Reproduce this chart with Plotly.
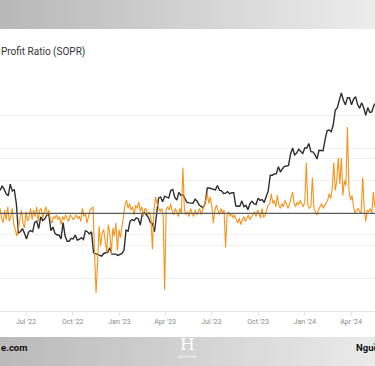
import plotly.graph_objects as go
import pandas as pd

# ---------------- data ----------------
# BTC price (thousand USD), sampled every 4 days from 2022-05-11
price_start = "2022-05-11"
price_k = [
    30.0, 31.3, 30.3, 29.1, 28.6, 31.8,
    29.9, 30.2, 26.6, 20.4, 20.6, 21.2, 20.3,
    19.3, 20.5, 20.8, 20.6, 22.4, 22.7, 21.2, 23.6,
    22.8, 23.2, 24.0, 24.1, 20.8, 21.5, 20.3, 20.0,
    20.0, 19.3, 22.4, 19.8, 18.9, 18.9, 19.4,
    19.3, 20.0, 19.1, 19.2, 19.5, 19.2, 20.8, 20.6,
    20.2, 20.6, 17.0, 16.9, 16.7, 16.6, 16.5,
    16.9, 17.0, 17.1, 17.8, 16.8, 16.8, 16.8, 16.6,
    16.7, 16.9, 17.4, 20.9, 20.7, 22.7, 23.0, 22.8,
    23.4, 23.2, 21.9, 24.3, 24.6, 23.9, 23.5,
    22.4, 22.2, 20.6, 24.4, 28.0, 28.3, 27.1, 28.5,
    28.2, 28.0, 30.0, 30.3, 28.2, 27.5, 29.5,
    28.7, 28.9, 27.7, 26.9, 26.8, 26.8, 26.7, 27.7,
    27.2, 26.3, 25.9, 25.6, 26.8, 30.7, 30.7,
    30.6, 30.5, 30.2, 31.4, 30.1, 29.9, 29.2, 29.3,
    29.7, 29.1, 29.4, 29.4, 26.1, 26.0, 26.0, 27.3,
    25.9, 26.2, 25.2, 26.6, 27.2, 26.6, 26.4,
    28.0, 27.4, 27.6, 26.9, 28.4, 29.9, 34.5, 34.5,
    34.9, 35.0, 37.3, 35.5, 36.6, 37.4, 37.5, 37.7,
    41.9, 44.2, 41.5, 42.2, 43.7, 43.0, 42.1,
    44.2, 44.2, 46.1, 42.8, 42.7, 41.6, 40.0, 43.3,
    43.2, 43.1, 47.8, 51.8, 52.1, 51.3, 54.5,
    62.4, 63.8, 68.3, 73.1, 68.4, 65.5, 70.0, 69.9,
    65.6, 69.0, 70.6, 65.7, 63.5, 66.8, 63.8, 59.5,
    63.9, 61.2, 61.5, 65.2, 66.9,
]

# SOPR, sampled every 3 days from 2022-05-11
sopr_start = "2022-05-11"
sopr_values = [
    1.003, 0.997, 0.994, 1.002, 0.996, 1.004, 0.995, 0.998, 1.003, 0.993,
    0.990, 0.986, 0.991, 0.996, 1.002, 0.994, 0.991, 1.001, 0.995, 0.998,
    1.003, 0.996, 1.002, 0.998, 1.004, 0.995, 1.002, 1.003, 0.997, 1.001,
    1.004, 0.999, 1.002, 0.996, 0.994, 0.998, 0.997, 0.999, 0.996, 0.998,
    0.993, 0.998, 0.996, 0.999, 0.997, 0.995, 0.999, 0.998, 0.996, 0.998,
    0.999, 0.997, 0.998, 0.995, 1.003, 0.998, 1.000, 0.994, 0.999, 1.002,
    1.003, 1.004, 0.975, 0.951, 0.970, 0.992, 0.980, 0.988, 0.990, 0.982,
    0.976, 0.993, 0.988, 0.975, 0.991, 0.986, 0.994, 0.977, 0.990, 0.985,
    0.992, 0.996, 1.005, 1.008, 1.003, 1.006, 1.002, 1.004, 0.999, 1.005,
    1.003, 1.007, 1.001, 1.004, 0.998, 1.003, 1.002, 0.999, 1.001, 0.997,
    0.978, 1.002, 1.010, 1.006, 1.004, 1.001, 1.003, 0.999, 0.953, 1.002,
    1.004, 1.002, 1.006, 1.001, 0.999, 1.003, 1.001, 0.998, 1.003, 1.000,
    1.028, 1.002, 0.999, 1.001, 0.998, 1.003, 1.000, 0.998, 1.002, 0.999,
    1.001, 1.003, 0.999, 1.002, 1.004, 1.008, 1.012, 1.006, 1.010, 1.004,
    0.994, 1.002, 1.005, 1.001, 0.999, 1.003, 1.000, 1.002, 0.979, 0.999,
    1.001, 0.998, 1.000, 0.997, 0.999, 0.996, 0.994, 0.997, 0.993, 0.996,
    0.998, 0.995, 0.997, 0.999, 0.996, 0.998, 0.999, 1.001, 0.998, 1.002,
    1.000, 0.997, 1.003, 0.9975, 0.999, 1.002, 1.005, 1.006, 1.012, 1.006,
    1.008, 1.004, 1.011, 1.005, 1.003, 1.006, 1.004, 1.008, 1.005, 1.003,
    1.006, 1.009, 1.013, 1.006, 1.004, 1.007, 1.005, 1.008, 1.006, 1.004,
    1.007, 1.031, 1.005, 1.003, 1.004, 1.022, 1.003, 1.001, 0.999, 1.002,
    1.004, 1.006, 1.003, 1.005, 1.007, 1.008, 1.012, 1.009, 1.015, 1.031,
    1.014, 1.020, 1.034, 1.018, 1.034, 1.011, 1.020, 1.017, 1.053, 1.014,
    1.008, 1.011, 1.004, 1.000, 1.002, 1.003, 1.001, 1.000, 1.022, 1.003,
    0.995, 1.002, 1.001, 1.003, 1.000, 1.013, 1.004, 1.002,
]

tick_dates = ["2022-07-01", "2022-10-01", "2023-01-01", "2023-04-01",
              "2023-07-01", "2023-10-01", "2024-01-01", "2024-04-01"]
tick_labels = ["Jul '22", "Oct '22", "Jan '23", "Apr '23",
               "Jul '23", "Oct '23", "Jan '24", "Apr '24"]

price_ticks = [10000, 20000, 40000, 80000]
sopr_threshold = 1.0

# ---------------- figure ----------------
W, H = 375, 366
TOP, BOT = 83, 311  # plot area pixel rows
PH = BOT - TOP


def py(p):
    """pixel row -> paper y"""
    return (BOT - p) / PH


price_dates = pd.date_range(price_start, periods=len(price_k), freq="4D")
sopr_dates = pd.date_range(sopr_start, periods=len(sopr_values), freq="3D")

fig = go.Figure()
fig.add_trace(go.Scatter(
    x=price_dates, y=[v * 1000 for v in price_k], mode="lines",
    line=dict(color="#2e2e2e", width=1.4), yaxis="y", hoverinfo="skip",
    showlegend=False))
fig.add_trace(go.Scatter(
    x=sopr_dates, y=sopr_values, mode="lines",
    line=dict(color="#f7931a", width=1.1), yaxis="y2", hoverinfo="skip",
    showlegend=False))

shapes = []
# SOPR = 1 reference line
shapes.append(dict(type="line", xref="paper", x0=0, x1=1, yref="y2",
                   y0=sopr_threshold, y1=sopr_threshold,
                   line=dict(color="#5a5a5a", width=1.2), layer="above"))


def lerp(c1, c2, t):
    return "rgb(%d,%d,%d)" % tuple(round(a + (b - a) * t) for a, b in zip(c1, c2))


N = 60
for band, (p0, p1), c1, c2 in [("top", (0, 29), (184, 184, 184), (236, 236, 236)),
                                ("bot", (337, 366), (186, 186, 186), (234, 234, 234))]:
    for k in range(N):
        t = k / (N - 1)
        shapes.append(dict(type="rect", xref="paper", yref="paper",
                           x0=k / N, x1=(k + 1) / N + 0.002,
                           y0=py(p1), y1=py(p0), line=dict(width=0),
                           fillcolor=lerp(c1, c2, t), layer="below"))

annotations = [
    dict(text="Profit Ratio (SOPR)", xref="paper", yref="paper",
         x=-0.003, y=py(52), xanchor="left", yanchor="middle", showarrow=False,
         font=dict(family="Roboto, sans-serif", size=10, color="#333333")),
    dict(text="<b>e.com</b>", xref="paper", yref="paper",
         x=-0.002, y=py(347), xanchor="left", yanchor="middle", showarrow=False,
         font=dict(family="Roboto, sans-serif", size=9.5, color="#111111")),
    dict(text="<b>Nguồ</b>", xref="paper", yref="paper",
         x=354 / W, y=py(347), xanchor="left", yanchor="middle", showarrow=False,
         font=dict(family="Roboto, sans-serif", size=9.5, color="#111111")),
    dict(text="H", xref="paper", yref="paper",
         x=187 / W, y=py(344), xanchor="center", yanchor="middle", showarrow=False,
         font=dict(family="DejaVu Serif, serif", size=17, color="#ffffff")),
    dict(text="HOUSETUBE", xref="paper", yref="paper",
         x=187 / W, y=py(356.5), xanchor="center", yanchor="middle", showarrow=False,
         font=dict(family="DejaVu Sans, sans-serif", size=3, color="#ffffff")),
]

fig.update_layout(
    width=W, height=H,
    margin=dict(l=0, r=0, t=TOP, b=H - BOT, pad=0),
    paper_bgcolor="#ffffff", plot_bgcolor="#ffffff",
    showlegend=False,
    xaxis=dict(type="date", range=["2022-05-10 19:00", "2024-05-18 06:00"],
               tickvals=tick_dates, ticktext=tick_labels,
               showgrid=False, zeroline=False,
               showline=True, linecolor="#e6e6e6", linewidth=1,
               ticks="outside", ticklen=4, tickcolor="#e6e6e6",
               tickfont=dict(family="Roboto, sans-serif", size=7, color="#8a8a8a")),
    yaxis=dict(type="log", range=[4, 4.903], tickvals=price_ticks,
               showticklabels=False, showgrid=True, gridcolor="#f1f1f1",
               zeroline=False, showline=False, ticks=""),
    yaxis2=dict(overlaying="y", side="right", range=[0.94, 1.08],
                tick0=1.0, dtick=0.02, showticklabels=False,
                showgrid=True, gridcolor="#f1f1f1", zeroline=False,
                showline=False, ticks=""),
    shapes=shapes,
    annotations=annotations,
)

fig.write_html(
    "out.html",
    config={"displayModeBar": False, "staticPlot": True},
    post_script="document.body.style.margin='0';document.body.style.overflow='hidden';",
)
